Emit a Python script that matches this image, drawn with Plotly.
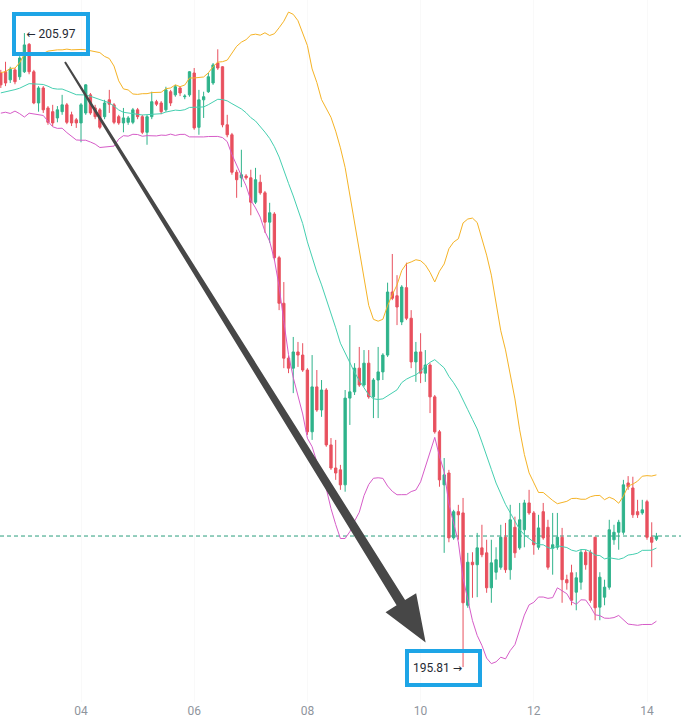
import pandas as pd
import plotly.graph_objects as go

# ---- 2-hour bars -------------------------------------------------------
bar_time = pd.date_range("2024-05-02 14:00", periods=140, freq="2h")

open_ = [
    205.33, 205.35, 205.22, 205.38, 205.27, 205.35, 205.79, 205.35, 204.85, 205.09,
    204.77, 204.71, 204.61, 204.71, 204.82, 204.66, 204.58, 204.53, 204.69, 204.98,
    204.77, 204.74, 204.63, 204.90, 204.82, 204.63, 204.53, 204.54, 204.54, 204.74,
    204.63, 204.38, 204.63, 204.87, 204.85, 204.74, 205.03, 204.98, 205.09, 204.95,
    204.98, 205.33, 204.46, 204.90, 205.03, 205.17, 205.49, 205.43, 204.50, 204.34,
    203.74, 203.65, 203.68, 203.65, 203.26, 203.58, 203.41, 202.94, 203.07, 202.37,
    201.64, 200.76, 200.60, 200.86, 200.81, 200.57, 199.58, 200.30, 199.93, 200.25,
    199.37, 199.00, 198.97, 198.73, 200.12, 200.22, 200.60, 200.33, 200.68, 200.14,
    200.41, 200.54, 200.81, 201.82, 201.76, 201.34, 201.89, 201.40, 200.70, 200.86,
    200.52, 200.65, 200.14, 199.58, 198.73, 198.92, 197.88, 198.30, 198.28, 196.80,
    197.49, 197.45, 197.72, 197.64, 197.08, 197.33, 197.41, 197.89, 197.37, 198.05,
    197.72, 198.01, 198.44, 198.28, 197.73, 198.30, 198.05, 197.72, 197.73, 197.89,
    197.21, 197.32, 197.01, 197.17, 197.65, 197.65, 197.89, 196.77, 196.93, 197.09,
    197.85, 197.97, 197.97, 198.76, 198.68, 198.30, 198.28, 198.46, 197.89, 197.86,
]
high = [
    205.38, 205.51, 205.43, 205.41, 205.60, 205.97, 205.81, 205.38, 205.12, 205.12,
    204.80, 204.82, 204.80, 204.98, 204.85, 204.71, 204.61, 204.85, 205.15, 205.01,
    204.82, 204.77, 204.90, 205.06, 204.85, 204.66, 204.77, 204.64, 204.77, 204.77,
    204.66, 204.66, 205.03, 204.90, 204.88, 205.11, 205.06, 205.14, 205.12, 204.99,
    205.36, 205.41, 205.06, 205.03, 205.33, 205.49, 205.71, 205.44, 204.66, 204.37,
    203.78, 204.10, 203.71, 203.78, 203.81, 203.70, 203.44, 203.25, 203.10, 202.40,
    201.98, 200.80, 201.10, 201.02, 201.00, 200.60, 200.81, 200.57, 200.41, 200.28,
    199.48, 199.45, 199.05, 200.25, 201.29, 200.68, 200.94, 200.89, 200.89, 200.44,
    200.94, 200.84, 201.97, 202.43, 202.09, 201.93, 202.29, 201.53, 201.02, 201.16,
    200.89, 200.68, 200.17, 199.61, 199.16, 198.97, 198.33, 198.41, 198.52, 197.64,
    197.65, 197.96, 198.09, 197.85, 197.85, 197.73, 198.09, 198.12, 198.41, 198.22,
    198.44, 198.49, 198.65, 198.31, 198.25, 198.44, 198.17, 198.28, 198.28, 198.04,
    197.29, 197.45, 197.33, 197.69, 197.69, 197.69, 197.89, 197.33, 197.21, 198.17,
    198.09, 198.17, 198.81, 198.87, 198.86, 198.49, 198.49, 198.49, 198.13, 197.96,
]
low = [
    205.09, 205.12, 205.17, 205.15, 205.22, 205.33, 205.31, 204.83, 204.71, 204.69,
    204.50, 204.48, 204.54, 204.66, 204.51, 204.48, 204.45, 204.22, 204.66, 204.66,
    204.59, 204.43, 204.59, 204.69, 204.51, 204.50, 204.38, 204.50, 204.51, 204.59,
    204.35, 204.18, 204.59, 204.80, 204.67, 204.71, 204.80, 204.95, 204.96, 204.91,
    204.95, 204.42, 204.34, 204.61, 205.01, 205.14, 205.38, 204.46, 204.30, 203.70,
    203.33, 203.50, 203.62, 203.05, 203.23, 203.38, 202.77, 202.61, 202.33, 201.53,
    200.60, 200.52, 200.20, 200.62, 200.54, 199.53, 199.45, 199.90, 199.82, 199.34,
    198.97, 198.81, 198.65, 198.62, 199.69, 200.17, 200.30, 200.30, 200.11, 199.80,
    199.80, 200.41, 200.78, 201.69, 201.29, 201.29, 201.37, 200.60, 200.38, 200.36,
    200.38, 199.88, 199.55, 198.70, 197.64, 197.81, 197.85, 197.85, 195.81, 196.76,
    196.92, 196.93, 197.57, 197.00, 196.84, 197.21, 197.37, 197.32, 197.21, 197.56,
    197.69, 197.73, 198.25, 197.61, 197.69, 197.85, 197.37, 197.29, 197.69, 196.84,
    197.05, 196.80, 196.72, 197.05, 197.37, 196.84, 196.56, 196.56, 196.80, 197.05,
    197.77, 197.69, 197.93, 198.65, 198.20, 198.20, 198.25, 197.85, 197.41, 197.83,
]
close = [
    205.14, 205.17, 205.39, 205.19, 205.57, 205.78, 205.35, 204.85, 205.09, 204.74,
    204.54, 204.53, 204.74, 204.82, 204.54, 204.53, 204.53, 204.82, 205.14, 204.69,
    204.63, 204.46, 204.85, 204.83, 204.54, 204.53, 204.61, 204.61, 204.74, 204.63,
    204.38, 204.63, 204.87, 204.83, 204.71, 205.06, 204.85, 205.11, 205.01, 204.96,
    205.35, 204.45, 204.90, 204.95, 205.27, 205.46, 205.41, 204.50, 204.34, 203.74,
    203.62, 203.70, 203.65, 203.26, 203.62, 203.41, 202.94, 203.09, 202.37, 201.64,
    200.76, 200.60, 200.86, 200.81, 200.57, 199.58, 200.30, 199.93, 200.25, 199.37,
    199.00, 198.92, 198.73, 200.12, 200.22, 200.60, 200.33, 200.68, 200.14, 200.41,
    200.54, 200.81, 201.82, 201.72, 201.58, 201.90, 201.40, 200.70, 200.86, 200.52,
    200.65, 200.14, 199.58, 198.81, 198.89, 197.88, 198.30, 198.25, 196.84, 197.49,
    197.45, 197.72, 197.61, 197.08, 197.48, 197.53, 197.89, 197.37, 198.17, 197.64,
    198.17, 198.44, 198.28, 197.77, 198.04, 197.88, 197.41, 197.77, 197.89, 197.21,
    197.16, 196.88, 197.24, 197.65, 197.45, 196.88, 196.76, 197.25, 197.09, 198.01,
    197.97, 198.13, 198.73, 198.70, 198.25, 198.25, 198.33, 197.89, 197.81, 197.91,
]
# closes of the 19 bars preceding the first drawn bar (band warm-up)
earlier_close = [
    204.87, 205.06, 204.77, 205.12, 204.96, 204.71, 204.93, 205.19, 204.83, 205.09,
    205.25, 204.95, 204.80, 205.12, 205.28, 205.01, 204.87, 205.19, 205.09,
]

# ---- Bollinger bands (20, 2) -----------------------------------------
BB_LEN, BB_K = 20, 2
all_close = pd.Series(earlier_close + close)
basis_all = all_close.rolling(BB_LEN).mean()
dev_all = all_close.rolling(BB_LEN).std(ddof=0)
n_prev = len(earlier_close)
basis = basis_all.iloc[n_prev:].to_numpy()
upper = (basis_all + BB_K * dev_all).iloc[n_prev:].to_numpy()
lower = (basis_all - BB_K * dev_all).iloc[n_prev:].to_numpy()

# ---- axes / canvas ----------------------------------------------------
W, H = 681, 727
MB = 25
PLOT_W, PLOT_H = W, H - MB
X_START = pd.Timestamp("2024-05-02 13:39:13")
X_END = pd.Timestamp("2024-05-14 14:25:00")
Y_LO, Y_HI = 195.25, 206.50

UP, DOWN = "#2fb38b", "#e8505e"
BLUE = "#1ea5e6"
TXT = "#252a33"
FONT = "Roboto"
ARROW_SPAN = "<span style='font-family:DejaVu Sans;font-size:11px'>{}</span>"

fig = go.Figure()

fig.add_trace(go.Scatter(x=bar_time, y=upper, mode="lines",
                         line=dict(color="#f5b326", width=1), hoverinfo="skip"))
fig.add_trace(go.Scatter(x=bar_time, y=basis, mode="lines",
                         line=dict(color="#45cfb0", width=1), hoverinfo="skip"))
fig.add_trace(go.Scatter(x=bar_time, y=lower, mode="lines",
                         line=dict(color="#d65cc8", width=1), hoverinfo="skip"))

fig.add_trace(go.Candlestick(
    x=bar_time, open=open_, high=high, low=low, close=close,
    increasing=dict(line=dict(color=UP, width=1), fillcolor=UP),
    decreasing=dict(line=dict(color=DOWN, width=1), fillcolor=DOWN),
    whiskerwidth=0,
))

# last price line
fig.add_shape(type="line", xref="paper", x0=0, x1=1, yref="y",
              y0=close[-1], y1=close[-1],
              line=dict(color="#2a9d7c", width=1, dash="4px,3px"), layer="below")

# ---- extreme markers --------------------------------------------------
i_hi = max(range(len(high)), key=lambda i: high[i])
i_lo = min(range(len(low)), key=lambda i: low[i])

fig.add_annotation(x=bar_time[i_hi], y=high[i_hi], xref="x", yref="y",
                   text=ARROW_SPAN.format("\u2190") + f" {high[i_hi]:.2f}",
                   showarrow=False,
                   xanchor="center", yanchor="middle", xshift=27, yshift=-1,
                   width=68, height=34, borderpad=1, borderwidth=4,
                   bordercolor=BLUE, font=dict(family=FONT, size=12, color=TXT))
fig.add_annotation(x=bar_time[i_lo], y=low[i_lo], xref="x", yref="y",
                   text=f" {low[i_lo]:.2f} " + ARROW_SPAN.format("\u2192"),
                   showarrow=False, align="left",
                   xanchor="center", yanchor="middle", xshift=-20, yshift=-1,
                   width=67, height=28, borderpad=1, borderwidth=4,
                   bordercolor=BLUE, font=dict(family=FONT, size=12, color=TXT))


# ---- tapered arrow from the high towards the low ----------------------
def to_px(t, p):
    fx = (t - X_START) / (X_END - X_START)
    fy = (Y_HI - p) / (Y_HI - Y_LO)
    return fx * PLOT_W, fy * PLOT_H


def to_paper(px, py):
    return px / PLOT_W, 1 - py / PLOT_H


hx, hy = to_px(bar_time[i_hi], high[i_hi])
lx, ly = to_px(bar_time[i_lo], low[i_lo])
tail = (hx + 40.6, hy + 29.0)
tip = (lx - 37.4, ly - 24.5)
dx, dy = tip[0] - tail[0], tip[1] - tail[1]
length = (dx * dx + dy * dy) ** 0.5
ux, uy = dx / length, dy / length
nx, ny = -uy, ux
HEAD_LEN, HEAD_HALF = 47.0, 18.0
TAIL_HALF, NECK_HALF = 1.0, 5.0
base = (tip[0] - ux * HEAD_LEN, tip[1] - uy * HEAD_LEN)

pts = [
    (tail[0] + nx * TAIL_HALF, tail[1] + ny * TAIL_HALF),
    (base[0] + nx * NECK_HALF, base[1] + ny * NECK_HALF),
    (base[0] + nx * HEAD_HALF, base[1] + ny * HEAD_HALF),
    tip,
    (base[0] - nx * HEAD_HALF, base[1] - ny * HEAD_HALF),
    (base[0] - nx * NECK_HALF, base[1] - ny * NECK_HALF),
    (tail[0] - nx * TAIL_HALF, tail[1] - ny * TAIL_HALF),
]
paper_pts = [to_paper(*p) for p in pts]
path = "M " + " L ".join(f"{x:.5f},{y:.5f}" for x, y in paper_pts) + " Z"
fig.add_shape(type="path", xref="paper", yref="paper", path=path,
              fillcolor="#474747", line=dict(width=0), layer="above")

fig.update_layout(
    width=W, height=H,
    margin=dict(l=0, r=0, t=0, b=MB),
    paper_bgcolor="white", plot_bgcolor="white",
    showlegend=False,
    font=dict(family=FONT),
    xaxis=dict(
        range=[X_START, X_END], type="date",
        tickformat="%d", dtick=2 * 86400000, tick0="2024-05-04",
        showgrid=True, gridcolor="#f9f9f9", gridwidth=1,
        zeroline=False, showline=False, ticks="",
        tickfont=dict(family=FONT, size=12, color="#8f959d"),
        rangeslider=dict(visible=False), fixedrange=True,
    ),
    yaxis=dict(range=[Y_LO, Y_HI], visible=False, showgrid=False,
               zeroline=False, fixedrange=True),
)

fig.write_html("out.html")
